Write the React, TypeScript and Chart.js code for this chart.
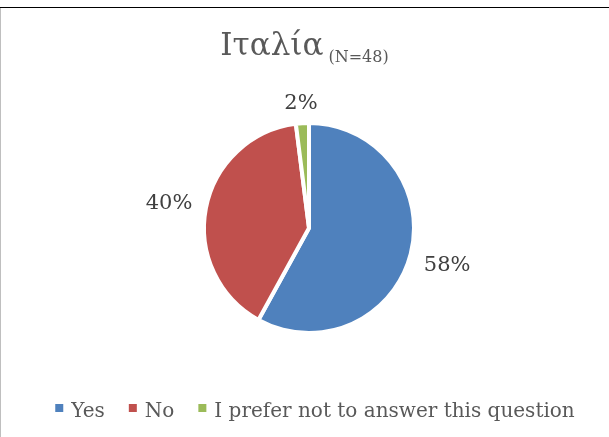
import React, { useEffect, useRef } from "react";
import { Chart, registerables } from "chart.js";

Chart.register(...registerables);

const titleMain = "Ιταλία";
const titleSub = "(N=48)";
const categories = ["Yes", "No", "I prefer not to answer this question"];
const shares = [58, 40, 2];
const colors = ["#4F81BD", "#C0504D", "#9BBB59"];

const FONT = "'DejaVu Serif', serif";
const BORDER = 4;

export default function App() {
  const ref = useRef<HTMLCanvasElement>(null);

  useEffect(() => {
    const canvas = ref.current!;

    const framePlugin = {
      id: "frame",
      beforeDraw(chart: any) {
        const ctx = chart.ctx;
        ctx.save();
        ctx.fillStyle = "#ffffff";
        ctx.fillRect(0, 0, chart.width, chart.height);
        ctx.fillStyle = "#000000";
        ctx.fillRect(0, 7, chart.width, 1);
        ctx.fillStyle = "#BFBFBF";
        ctx.fillRect(0, 8, 1, chart.height - 8);
        ctx.restore();
      },
    };

    const labelPlugin = {
      id: "outsideLabels",
      afterDatasetsDraw(chart: any) {
        const ctx = chart.ctx;
        const meta = chart.getDatasetMeta(0);
        ctx.save();
        ctx.font = `21px ${FONT}`;
        ctx.fillStyle = "#404040";
        ctx.textAlign = "center";
        ctx.textBaseline = "alphabetic";
        meta.data.forEach((arc: any, i: number) => {
          const p = arc.getProps(["x", "y", "startAngle", "endAngle", "outerRadius"], true);
          const mid = (p.startAngle + p.endAngle) / 2;
          const txt = shares[i] + "%";
          const w = ctx.measureText(txt).width;
          const h = 16;
          const c = Math.cos(mid);
          const s = Math.sin(mid);
          const d = p.outerRadius - BORDER / 2 + 15 + (w / 2) * Math.abs(c) + (h / 2) * Math.abs(s);
          ctx.fillText(txt, p.x + d * c, p.y + d * s + h / 2);
        });
        ctx.restore();
      },
    };

    const titleLegendPlugin = {
      id: "titleLegend",
      afterDraw(chart: any) {
        const ctx = chart.ctx;
        ctx.save();
        // title
        ctx.fillStyle = "#595959";
        ctx.textBaseline = "alphabetic";
        ctx.textAlign = "left";
        ctx.font = `31px ${FONT}`;
        const wMain = ctx.measureText(titleMain).width;
        ctx.font = `16px ${FONT}`;
        const wSub = ctx.measureText(titleSub).width;
        const gap = 5;
        const total = wMain + gap + wSub;
        const x0 = chart.width / 2 - total / 2;
        ctx.font = `31px ${FONT}`;
        ctx.fillText(titleMain, x0, 55);
        ctx.font = `16px ${FONT}`;
        ctx.fillText(titleSub, x0 + wMain + gap, 62);

        // legend
        ctx.font = `20px ${FONT}`;
        const box = 8;
        const boxGap = 8;
        const itemGap = 24;
        const widths = categories.map((c) => ctx.measureText(c).width);
        const rowW =
          widths.reduce((a, b) => a + b, 0) + categories.length * (box + boxGap) + (categories.length - 1) * itemGap;
        let x = 315 - rowW / 2;
        const baseY = 417;
        categories.forEach((c, i) => {
          ctx.fillStyle = colors[i];
          ctx.fillRect(x, 404, box, box);
          x += box + boxGap;
          ctx.fillStyle = "#595959";
          ctx.fillText(c, x, baseY);
          x += widths[i] + itemGap;
        });
        ctx.restore();
      },
    };

    const chart = new Chart(canvas, {
      type: "pie",
      data: {
        labels: categories,
        datasets: [
          {
            data: shares,
            backgroundColor: colors,
            borderColor: "#ffffff",
            borderWidth: BORDER,
          },
        ],
      },
      options: {
        animation: false,
        responsive: false,
        maintainAspectRatio: false,
        layout: { padding: { left: 202, right: 193, top: 121, bottom: 102 } },
        plugins: {
          legend: { display: false },
          title: { display: false },
          tooltip: { enabled: false },
        },
      },
      plugins: [framePlugin, labelPlugin, titleLegendPlugin],
    });

    return () => chart.destroy();
  }, []);

  return (
    <div style={{ position: "fixed", left: 0, top: 0, width: 609, height: 437, background: "#fff" }}>
      <canvas ref={ref} width={609} height={437} style={{ display: "block", width: 609, height: 437 }} />
    </div>
  );
}
